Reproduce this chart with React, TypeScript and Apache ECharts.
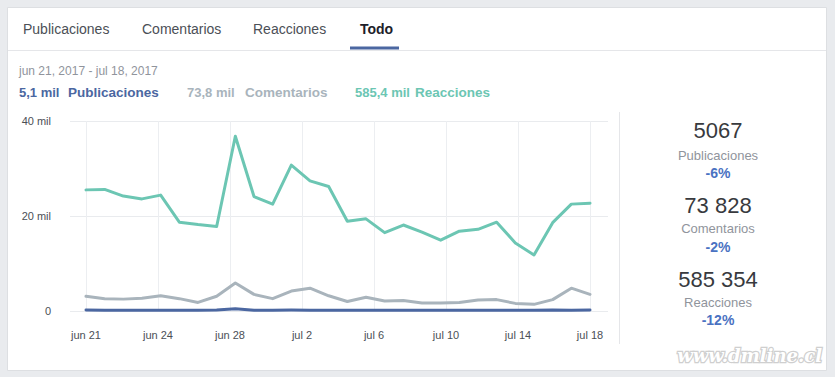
import { useEffect, useRef } from 'react';
import * as echarts from 'echarts';

const dates = [
  'jun 21', 'jun 22', 'jun 23', 'jun 24', 'jun 25', 'jun 26', 'jun 27', 'jun 28', 'jun 29', 'jun 30',
  'jul 1', 'jul 2', 'jul 3', 'jul 4', 'jul 5', 'jul 6', 'jul 7', 'jul 8', 'jul 9', 'jul 10',
  'jul 11', 'jul 12', 'jul 13', 'jul 14', 'jul 15', 'jul 16', 'jul 17', 'jul 18',
];
const xTickLabels = ['jun 21', 'jun 24', 'jun 28', 'jul 2', 'jul 6', 'jul 10', 'jul 14', 'jul 18'];
const yTickLabels = ['0', '20 mil', '40 mil'];

const publicaciones = [
  220, 170, 160, 160, 150, 150, 150, 200, 450, 170, 160, 200, 180, 160,
  150, 150, 150, 160, 150, 140, 180, 170, 170, 150, 140, 200, 170, 200,
];
const comentarios = [
  3100, 2600, 2500, 2700, 3200, 2600, 1800, 3100, 5900, 3500, 2600, 4200, 4800, 3200,
  2000, 2900, 2100, 2200, 1700, 1700, 1800, 2300, 2400, 1600, 1400, 2400, 4800, 3500,
];
const reacciones = [
  25500, 25600, 24200, 23600, 24400, 18700, 18200, 17800, 36800, 24100, 22500, 30700, 27400, 26200,
  18900, 19400, 16500, 18100, 16600, 14900, 16800, 17200, 18700, 14300, 11800, 18600, 22500, 22700,
];

const tabs = ['Publicaciones', 'Comentarios', 'Reacciones', 'Todo'];
const dateRange = 'jun 21, 2017 - jul 18, 2017';
const legendValues = ['5,1 mil', '73,8 mil', '585,4 mil'];
const seriesNames = ['Publicaciones', 'Comentarios', 'Reacciones'];
const statValues = ['5067', '73 828', '585 354'];
const statChanges = ['-6%', '-2%', '-12%'];

const FONT = "'Liberation Sans', Arial, Helvetica, sans-serif";
const COLORS = ['#4b67a1', '#a9b4bc', '#6cc6b3'];

export default function App() {
  const ref = useRef<HTMLDivElement>(null);

  useEffect(() => {
    document.body.style.margin = '0';
    const chart = echarts.init(ref.current!, null, { renderer: 'svg' });

    const tabX = [23, 142, 253, 360];
    const legendX = [[19, 68], [187, 245], [355, 415]];
    const statY = [[130, 155, 173], [205, 228, 247], [279, 302, 320]];

    const graphics: any[] = [
      {
        type: 'rect', z: -100, silent: true,
        shape: { x: 7.5, y: 7.5, width: 819, height: 363 },
        style: { fill: '#ffffff', stroke: '#dddfe2', lineWidth: 1 },
      },
      {
        type: 'line', z: -90, silent: true,
        shape: { x1: 8, y1: 50.5, x2: 826, y2: 50.5 },
        style: { stroke: '#e5e6e9', lineWidth: 1 },
      },
      {
        type: 'rect', silent: true,
        shape: { x: 350, y: 46.5, width: 49, height: 3 },
        style: { fill: '#4b67a1' },
      },
      {
        type: 'line', silent: true,
        shape: { x1: 619.5, y1: 112, x2: 619.5, y2: 344 },
        style: { stroke: '#e5e6e9', lineWidth: 1 },
      },
      {
        type: 'text', silent: true, x: 19, y: 71,
        style: { text: dateRange, fontSize: 12, fontFamily: FONT, fill: '#90949c', textAlign: 'left', textVerticalAlign: 'middle' },
      },
      {
        type: 'text', silent: true, x: 822, y: 355,
        style: {
          text: 'www.dmline.cl', fontSize: 18, fontFamily: "'DejaVu Serif', serif", fontStyle: 'italic', fontWeight: 'bold',
          fill: '#ffffff', stroke: '#cfcfcf', lineWidth: 2.5, textAlign: 'right', textVerticalAlign: 'middle',
        },
      },
    ];

    tabs.forEach((t, i) => {
      const active = i === tabs.length - 1;
      graphics.push({
        type: 'text', silent: true, x: tabX[i], y: 29,
        style: {
          text: t, fontSize: 14, fontFamily: FONT, fontWeight: active ? 'bold' : 'normal',
          fill: active ? '#1d2129' : '#4b4f56', textAlign: 'left', textVerticalAlign: 'middle',
        },
      });
    });

    legendValues.forEach((v, i) => {
      graphics.push({
        type: 'text', silent: true, x: legendX[i][0], y: 92,
        style: { text: v, fontSize: 13, fontWeight: 'bold', fontFamily: FONT, fill: COLORS[i], textAlign: 'left', textVerticalAlign: 'middle' },
      });
      graphics.push({
        type: 'text', silent: true, x: legendX[i][1], y: 92,
        style: { text: seriesNames[i], fontSize: 13.5, fontWeight: 'bold', fontFamily: FONT, fill: COLORS[i], textAlign: 'left', textVerticalAlign: 'middle' },
      });
    });

    statValues.forEach((v, i) => {
      graphics.push({
        type: 'text', silent: true, x: 718, y: statY[i][0],
        style: { text: v, fontSize: 22, fontFamily: FONT, fill: '#383a3e', textAlign: 'center', textVerticalAlign: 'middle' },
      });
      graphics.push({
        type: 'text', silent: true, x: 718, y: statY[i][1],
        style: { text: seriesNames[i], fontSize: 13, fontFamily: FONT, fill: '#90949c', textAlign: 'center', textVerticalAlign: 'middle' },
      });
      graphics.push({
        type: 'text', silent: true, x: 718, y: statY[i][2],
        style: { text: statChanges[i], fontSize: 14, fontWeight: 'bold', fontFamily: FONT, fill: '#4a72c2', textAlign: 'center', textVerticalAlign: 'middle' },
      });
    });

    const lineSeries = (name: string, data: number[], color: string, z: number) => ({
      name, type: 'line', xAxisIndex: 1, yAxisIndex: 1, data,
      showSymbol: false, symbol: 'none', z,
      lineStyle: { color, width: 3, join: 'round', cap: 'round' },
      itemStyle: { color },
    });

    const option: any = {
      animation: false,
      backgroundColor: '#e9ebee',
      textStyle: { fontFamily: FONT },
      grid: [
        { left: 70, right: 227, top: 121, bottom: 66 },
        { left: 86, right: 245, top: 121, bottom: 66 },
      ],
      xAxis: [
        { gridIndex: 0, type: 'value', min: 0, max: 1, show: false },
        { gridIndex: 1, type: 'category', data: dates, boundaryGap: false, show: false, position: 'top' },
        {
          gridIndex: 1, type: 'value', min: 0, max: 7, interval: 1, position: 'bottom',
          axisLine: { show: false }, axisTick: { show: false },
          splitLine: { show: true, lineStyle: { color: '#eceef1', width: 1 } },
          axisLabel: {
            formatter: (v: number) => xTickLabels[Math.round(v)] ?? '',
            color: '#4b4f56', fontSize: 11, margin: 18, fontFamily: FONT,
          },
        },
      ],
      yAxis: [
        {
          gridIndex: 0, type: 'value', min: 0, max: 40000, interval: 20000,
          axisLine: { show: false }, axisTick: { show: false },
          splitLine: { show: true, lineStyle: { color: '#e9ebee', width: 1 } },
          axisLabel: {
            formatter: (v: number) => yTickLabels[Math.round(v / 20000)] ?? '',
            color: '#4b4f56', fontSize: 11, margin: 19, fontFamily: FONT,
          },
        },
        { gridIndex: 1, type: 'value', min: 0, max: 40000, interval: 20000, show: false },
      ],
      series: [
        lineSeries(seriesNames[1], comentarios, COLORS[1], 2),
        lineSeries(seriesNames[2], reacciones, COLORS[2], 3),
        lineSeries(seriesNames[0], publicaciones, COLORS[0], 4),
      ],
      graphic: { elements: graphics },
    };

    chart.setOption(option);
    return () => chart.dispose();
  }, []);

  return (
    <div
      ref={ref}
      style={{ position: 'fixed', left: 0, top: 0, width: 835, height: 377 }}
    />
  );
}
